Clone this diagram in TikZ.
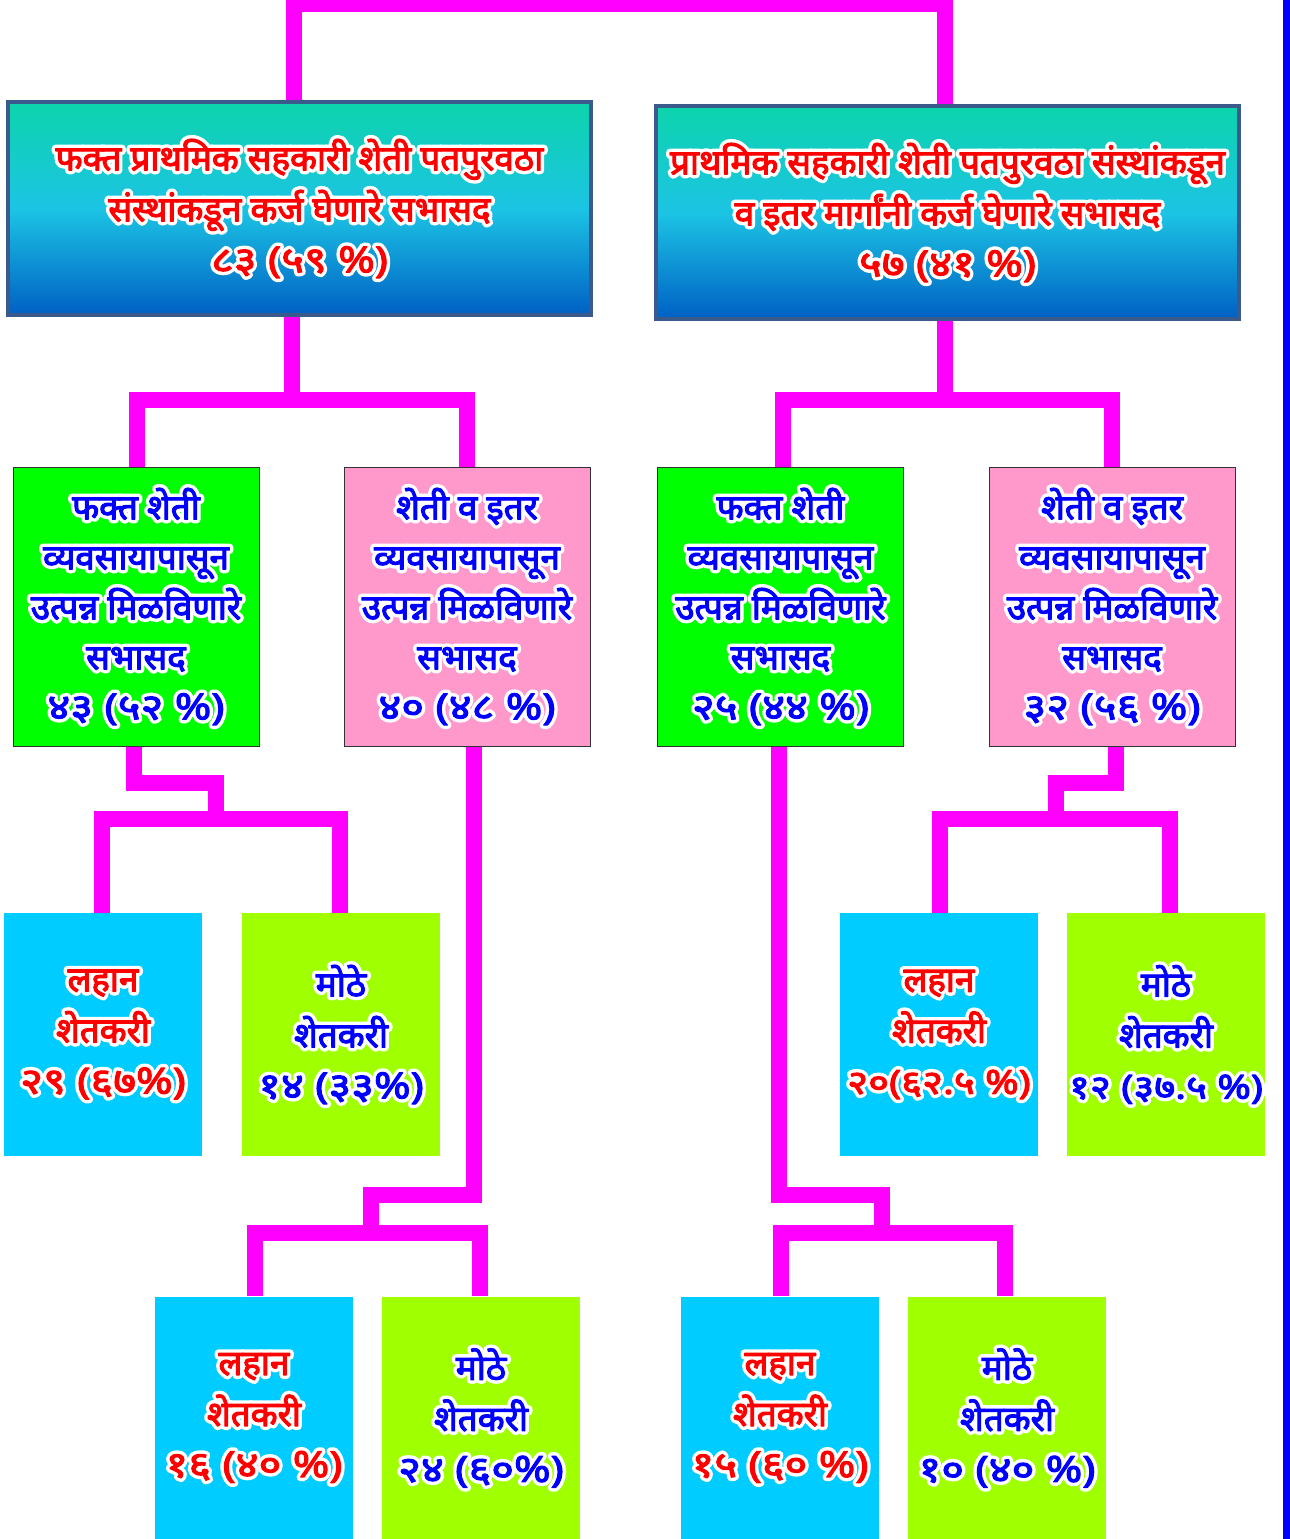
\documentclass[tikz,border=0pt]{standalone}
\usepackage{fontspec}
\newfontfamily\dev[Script=Devanagari]{Noto Sans}
\newfontfamily\devnum[Script=Devanagari, FakeStretch=1.22]{Noto Sans}
\definecolor{mag}{HTML}{FF00FF}
\definecolor{tborder}{HTML}{3A5A8C}
\definecolor{ttop}{HTML}{0CD4AC}
\definecolor{tmid}{HTML}{1CC4E4}
\definecolor{tbot}{HTML}{0060C4}
\definecolor{gbox}{HTML}{00FF00}
\definecolor{pbox}{HTML}{FF99CC}
\definecolor{cbox}{HTML}{00CCFF}
\definecolor{lbox}{HTML}{A0FF00}
\definecolor{redt}{HTML}{FF0000}
\definecolor{bluet}{HTML}{0000FF}
% white outline drawn with PDF text render mode "stroke", then the (slightly emboldened) text on top
\newcommand\hal[1]{\mbox{\rlap{\special{pdf:literal direct 1 Tr 8 w 1 J 1 j 1 1 1 RG}#1\special{pdf:literal direct 0 Tr}}{\color{.}\special{pdf:literal direct 2 Tr 1.1 w}#1\special{pdf:literal direct 0 Tr}}}}
\newcommand\num[1]{{\devnum\bfseries\fontsize{36}{50}\selectfont\hal{#1}}}
\newcommand\snum[1]{{\devnum\bfseries\fontsize{33}{50}\selectfont\hal{#1}}}
\tikzset{
  conn/.style={draw=mag, line width=16pt, line join=miter},
  topbox/.style={draw=tborder, line width=4pt, top color=ttop, bottom color=tbot, middle color=tmid,
    minimum width=583pt, minimum height=213pt, align=center, text=redt,
    font=\dev\bfseries\fontsize{35}{51}\selectfont},
  midbox/.style={draw=black!80, line width=1pt, minimum width=246pt, minimum height=279pt,
    align=center, text=bluet, font=\dev\bfseries\fontsize{35}{50}\selectfont},
  farmbox/.style={minimum width=198pt, minimum height=243pt, align=center,
    font=\dev\bfseries\fontsize{35}{51}\selectfont, inner sep=0pt},
  smallf/.style={farmbox, fill=cbox, text=redt},
  largef/.style={farmbox, fill=lbox, text=bluet},
}
\begin{document}
\begin{tikzpicture}[x=1pt,y=-1pt]
\useasboundingbox (0,0) rectangle (1290,1539);
\fill[white] (0,0) rectangle (1290,1539);
% top boxes
\node[topbox] (T1) at (299.5,208.5) {\hal{फक्त प्राथमिक सहकारी शेती पतपुरवठा}\\\hal{संस्थांकडून कर्ज घेणारे सभासद}\\\num{८३ (५९ \%)}};
\node[topbox] (T2) at (947.5,212.5) {\hal{प्राथमिक सहकारी शेती पतपुरवठा संस्थांकडून}\\\hal{व इतर मार्गांनी कर्ज घेणारे सभासद}\\\num{५७ (४१ \%)}};
% middle boxes
\node[midbox, fill=gbox] (A1) at (136,606.5) {\hal{फक्त शेती}\\\hal{व्यवसायापासून}\\\hal{उत्पन्न मिळविणारे}\\\hal{सभासद}\\\num{४३ (५२ \%)}};
\node[midbox, fill=pbox] (A2) at (467,606.5) {\hal{शेती व इतर}\\\hal{व्यवसायापासून}\\\hal{उत्पन्न मिळविणारे}\\\hal{सभासद}\\\num{४० (४८ \%)}};
\node[midbox, fill=gbox] (B1) at (780.5,606.5) {\hal{फक्त शेती}\\\hal{व्यवसायापासून}\\\hal{उत्पन्न मिळविणारे}\\\hal{सभासद}\\\num{२५ (४४ \%)}};
\node[midbox, fill=pbox] (B2) at (1112,606.5) {\hal{शेती व इतर}\\\hal{व्यवसायापासून}\\\hal{उत्पन्न मिळविणारे}\\\hal{सभासद}\\\num{३२ (५६ \%)}};
% farmer boxes row 1
\node[smallf] (S1) at (103,1034.5) {\hal{लहान}\\\hal{शेतकरी}\\\num{२९ (६७\%)}};
\node[largef] (L1) at (341,1034.5) {\hal{मोठे}\\\hal{शेतकरी}\\\num{१४ (३३\%)}};
\node[smallf] (S4) at (939,1034.5) {\hal{लहान}\\\hal{शेतकरी}\\\snum{२०(६२.५ \%)}};
\node[largef] (L4) at (1166,1034.5) {\hal{मोठे}\\\hal{शेतकरी}\\\snum{१२ (३७.५ \%)}};
% farmer boxes row 2
\node[smallf] (S2) at (254,1418) {\hal{लहान}\\\hal{शेतकरी}\\\num{१६ (४० \%)}};
\node[largef] (L2) at (481,1418) {\hal{मोठे}\\\hal{शेतकरी}\\\num{२४ (६०\%)}};
\node[smallf] (S3) at (780,1418) {\hal{लहान}\\\hal{शेतकरी}\\\num{१५ (६० \%)}};
\node[largef] (L3) at (1007,1418) {\hal{मोठे}\\\hal{शेतकरी}\\\num{१० (४० \%)}};
% junction coordinates
\coordinate (top) at (620,4);
\coordinate (jL) at (292,400);
\coordinate (jR) at (945,400);
\coordinate (e1) at (216,783);  \coordinate (j1) at (216,819);
\coordinate (e2) at (371,1195); \coordinate (j2) at (371,1233);
\coordinate (e3) at (882,1195); \coordinate (j3) at (882,1233);
\coordinate (e4) at (1056,783); \coordinate (j4) at (1056,819);
% connectors
\draw[conn] ([xshift=-5.5pt]T1.north) |- (top) -| ([xshift=-2.5pt]T2.north);
\draw[conn] (T1.south -| jL) -- (jL);
\draw[conn] ([xshift=1pt]A1.north) |- (jL) -| (A2.north);
\draw[conn] (T2.south -| jR) -- (jR);
\draw[conn] ([xshift=2.5pt]B1.north) |- (jR) -| (B2.north);
\draw[conn] ([xshift=-2pt]A1.south) |- (e1) -- (j1);
\draw[conn] ([xshift=-1pt]S1.north) |- (j1) -| ([xshift=-1pt]L1.north);
\draw[conn] ([xshift=7pt]A2.south) |- (e2) -- (j2);
\draw[conn] ([xshift=1pt]S2.north) |- (j2) -| ([xshift=-1pt]L2.north);
\draw[conn] ([xshift=-1.5pt]B1.south) |- (e3) -- (j3);
\draw[conn] ([xshift=1pt]S3.north) |- (j3) -| ([xshift=-2pt]L3.north);
\draw[conn] ([xshift=4pt]B2.south) |- (e4) -- (j4);
\draw[conn] ([xshift=1pt]S4.north) |- (j4) -| ([xshift=4pt]L4.north);
% right edge line
\fill[bluet] (1283,0) rectangle (1290,1539);
\end{tikzpicture}
\end{document}
